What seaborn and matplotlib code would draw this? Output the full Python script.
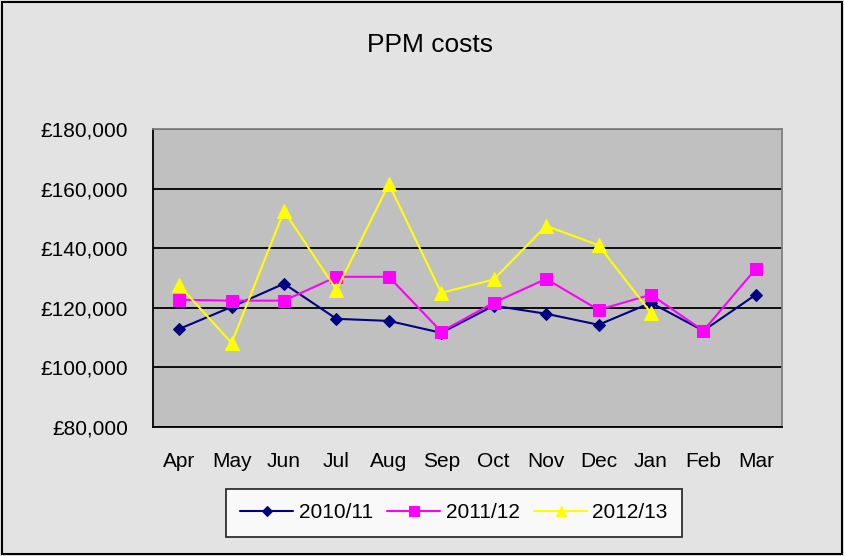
import numpy as np
import pandas as pd
import matplotlib
matplotlib.use("Agg")
import matplotlib.pyplot as plt
import seaborn as sns
from matplotlib.ticker import FuncFormatter

months = ["Apr", "May", "Jun", "Jul", "Aug", "Sep", "Oct", "Nov", "Dec", "Jan", "Feb", "Mar"]
s2010 = [112900, 120300, 128100, 116300, 115600, 111600, 120700, 118000, 114300, 121700, 112300, 124400]
s2011 = [122700, 122400, 122400, 130400, 130400, 112000, 121700, 129700, 119300, 124400, 112300, 133100]
s2012 = [127500, 108200, 152500, 126000, 161500, 125000, 129500, 147500, 141000, 118300, np.nan, np.nan]
series_names = ["2010/11", "2011/12", "2012/13"]
colors = ["#000080", "#ff00ff", "#ffff00"]
markers = ["D", "s", "^"]
msizes = [6.5, 9, 10]

sns.set_style("white")
plt.rcParams['font.family'] = ['Liberation Sans', 'DejaVu Sans']
plt.rcParams['text.color'] = 'black'
plt.rcParams['xtick.color'] = 'black'
plt.rcParams['ytick.color'] = 'black'

rows = []
for name, vals in zip(series_names, [s2010, s2011, s2012]):
    for m, v in zip(months, vals):
        rows.append({"month": m, "cost": v, "series": name})
df = pd.DataFrame(rows)

fig = plt.figure(figsize=(8.44, 5.56), dpi=100, facecolor="#e3e3e3")
ax = fig.add_axes([153/844, 1-427/556, 629/844, 298/556])
ax.set_facecolor("#c0c0c0")

for name, col, mk, ms in zip(series_names, colors, markers, msizes):
    sub = df[df["series"] == name].dropna()
    sns.lineplot(data=sub, x="month", y="cost", ax=ax, color=col, marker=mk,
                 markersize=ms, markeredgecolor=col, linewidth=1.5, label=name,
                 sort=False)

ax.set_xlim(-0.5, 11.5)
ax.set_ylim(80000, 180000)
ax.set_yticks(np.arange(80000, 180001, 20000))
ax.yaxis.set_major_formatter(FuncFormatter(lambda v, p: "£{:,.0f}".format(v)))
ax.set_xticks(np.arange(12))
ax.set_xticklabels(months)
ax.set_xticks(np.arange(-0.5, 12, 1), minor=True)
ax.tick_params(axis="x", which="major", length=0, labelsize=15, labelcolor="black", pad=18)
ax.tick_params(axis="x", which="minor", length=5, width=1.2, color="black", direction="out")
ax.tick_params(axis="y", which="major", length=5, width=1.2, color="black", direction="out",
               labelsize=15, labelcolor="black", pad=13)
ax.grid(axis="y", color="black", linewidth=1.3)
ax.set_axisbelow(True)
ax.set_xlabel("")
ax.set_ylabel("")
for side in ["left", "bottom"]:
    ax.spines[side].set_color("black")
    ax.spines[side].set_linewidth(1.3)
for side in ["top", "right"]:
    ax.spines[side].set_color("#808080")
    ax.spines[side].set_linewidth(1.3)
for sp in ax.spines.values():
    sp.set_visible(True)

fig.text(430/844, 1-45/556, "PPM costs", ha="center", va="center", fontsize=19, color="black")

if ax.legend_:
    ax.legend_.remove()
handles, labels = ax.get_legend_handles_labels()
leg = fig.legend(handles, labels, loc="center", bbox_to_anchor=(454/844, 1-513/556), ncol=3,
                 frameon=True, fancybox=False, edgecolor="black", facecolor="white",
                 fontsize=15, handlelength=2.55, handletextpad=0.25, columnspacing=0.7,
                 borderpad=0.7)
leg.get_frame().set_linewidth(1.3)
for h in leg.legend_handles:
    h.set_markersize(h.get_markersize() * 0.75)

border = plt.Rectangle((0.002, 0.003), 0.996, 0.994, transform=fig.transFigure,
                       fill=False, edgecolor="black", linewidth=1.5)
fig.patches.append(border)

fig.savefig("out.png", dpi=100, facecolor=fig.get_facecolor())
